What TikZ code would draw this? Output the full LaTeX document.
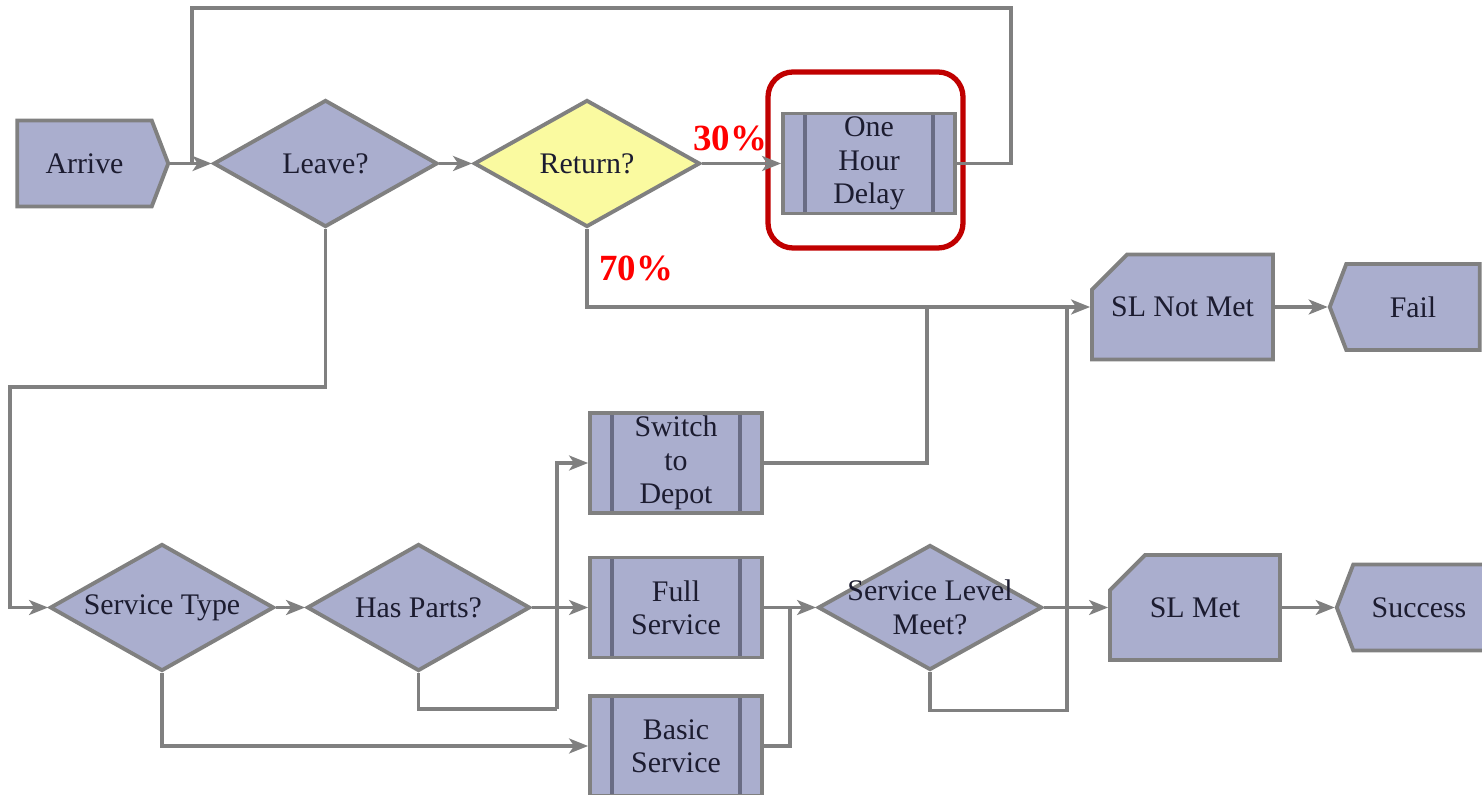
\documentclass[tikz,border=0pt]{standalone}
\usepackage{fontspec}
\setmainfont{Liberation Serif}
\newfontfamily\diafont{Liberation Serif}
\usetikzlibrary{shapes.geometric,shapes.symbols,shapes.misc,arrows.meta}
\definecolor{boxfill}{RGB}{170,174,206}
\definecolor{edgegray}{RGB}{128,128,128}
\definecolor{linegray}{RGB}{105,108,132}
\definecolor{qyellow}{RGB}{250,250,160}
\definecolor{hired}{RGB}{192,0,0}
\definecolor{pctred}{RGB}{255,0,0}
\definecolor{txtcol}{RGB}{28,28,48}
\begin{document}
\begin{tikzpicture}[line width=0.9pt,
             base/.style = {draw=edgegray, line width=1.1pt, fill=boxfill, text=txtcol,
                            font=\diafont\fontsize{8.5}{9.5}\selectfont, align=center},
             dec/.style = {base, diamond, aspect=1.76, inner sep=0pt, minimum width=2.24cm, minimum height=1.27cm},
             proc/.style = {base, rectangle, inner sep=0pt, minimum width=1.72cm, minimum height=1cm,
                            path picture={
                              \draw[linegray, line width=1.3pt]
                                ([xshift=0.22cm]path picture bounding box.north west) --
                                ([xshift=0.22cm]path picture bounding box.south west)
                                ([xshift=-0.22cm]path picture bounding box.north east) --
                                ([xshift=-0.22cm]path picture bounding box.south east);}},
             term/.style = {base, signal, signal pointer angle=138, inner sep=0pt, minimum height=0.86cm},
             card/.style = {base, chamfered rectangle, chamfered rectangle corners=north west,
                            chamfered rectangle xsep=0.25cm, chamfered rectangle ysep=0.25cm,
                            inner sep=0pt, minimum height=1.05cm},
             conn/.style = {draw=edgegray},
             arr/.style = {conn, -{Stealth[length=0.19cm, width=0.15cm, inset=0.05cm]}},
             pct/.style = {text=pctred, font=\diafont\fontsize{10.5}{12}\selectfont\bfseries}]
            \useasboundingbox (0,0) rectangle (14.82,-7.95);

            % top row
            \node[term, signal to=east, minimum width=1.51cm] (arrive) at (0.845,-1.635) {Arrive};
            \node[dec] (leave) at (3.255,-1.635) {Leave?};
            \node[dec, fill=qyellow, minimum width=2.26cm] (ret) at (5.87,-1.635) {Return?};
            \node[proc] (delay) at (8.69,-1.635) {One\\Hour\\Delay};
            \node[draw=hired, line width=1.5pt, rounded corners=0.25cm,
                  minimum width=1.95cm, minimum height=1.76cm] (hl) at (8.655,-1.60) {};

            % fail / success
            \node[card, minimum width=1.81cm] (slnot) at (11.825,-3.07) {SL Not Met};
            \node[term, signal to=west, minimum width=1.50cm] (fail) at (14.13,-3.07) {Fail};
            \node[card, minimum width=1.70cm] (slmet) at (11.95,-6.075) {SL Met};
            \node[term, signal to=west, minimum width=1.48cm] (success) at (14.19,-6.075) {Success};

            % service row
            \node[dec] (stype) at (1.62,-6.075) {Service Type};
            \node[dec, minimum width=2.23cm] (parts) at (4.185,-6.075) {Has Parts?};
            \node[proc] (depot) at (6.76,-4.63) {Switch\\to\\Depot};
            \node[proc] (full) at (6.76,-6.075) {Full\\Service};
            \node[proc] (basic) at (6.76,-7.46) {Basic\\Service};
            \node[dec, inner xsep=-7pt, minimum height=1.25cm] (slmeet) at (9.30,-6.075) {Service Level\\Meet?};

            % labels
            \node[pct] (l30) at (7.30,-1.38) {30\%};
            \node[pct] (l70) at (6.36,-2.68) {70\%};

            % joints
            \coordinate (jleave) at (1.92,-1.635);
            \coordinate (jnot) at (9.27,-3.07);
            \coordinate (jslm) at (10.67,-3.07);
            \coordinate (jfull) at (7.90,-6.075);
            \coordinate (pbend) at (5.57,-7.09);

            % connectors
            \draw[arr] (arrive.east) -- (leave.west);
            \draw[arr] (leave.east) -- (ret.west);
            \draw[arr] (ret.east) -- (delay.west);
            \draw[conn] (delay.east) -| ++(0.54,1.555) -| (jleave);
            \draw[arr] (ret.south) |- (slnot.west);
            \draw[arr] (slnot.east) -- (fail.west);
            \draw[arr] (leave.south) -- ++(0,-1.58) -| ([xshift=-0.38cm]stype.west) -- (stype.west);
            \draw[arr] (stype.east) -- (parts.west);
            \draw[arr] (parts.east) -- (full.west);
            \draw[conn] (parts.south) |- (pbend);
            \draw[arr] (pbend) |- (depot.west);
            \draw[arr] (stype.south) |- (basic.west);
            \draw[conn] (depot.east) -| (jnot);
            \draw[arr] (full.east) -- (slmeet.west);
            \draw[conn] (basic.east) -| (jfull);
            \draw[arr] (slmeet.east) -- (slmet.west);
            \draw[conn] (slmeet.south) -- ++(0,-0.385) -| (jslm);
            \draw[arr] (slmet.east) -- (success.west);
\end{tikzpicture}
\end{document}
